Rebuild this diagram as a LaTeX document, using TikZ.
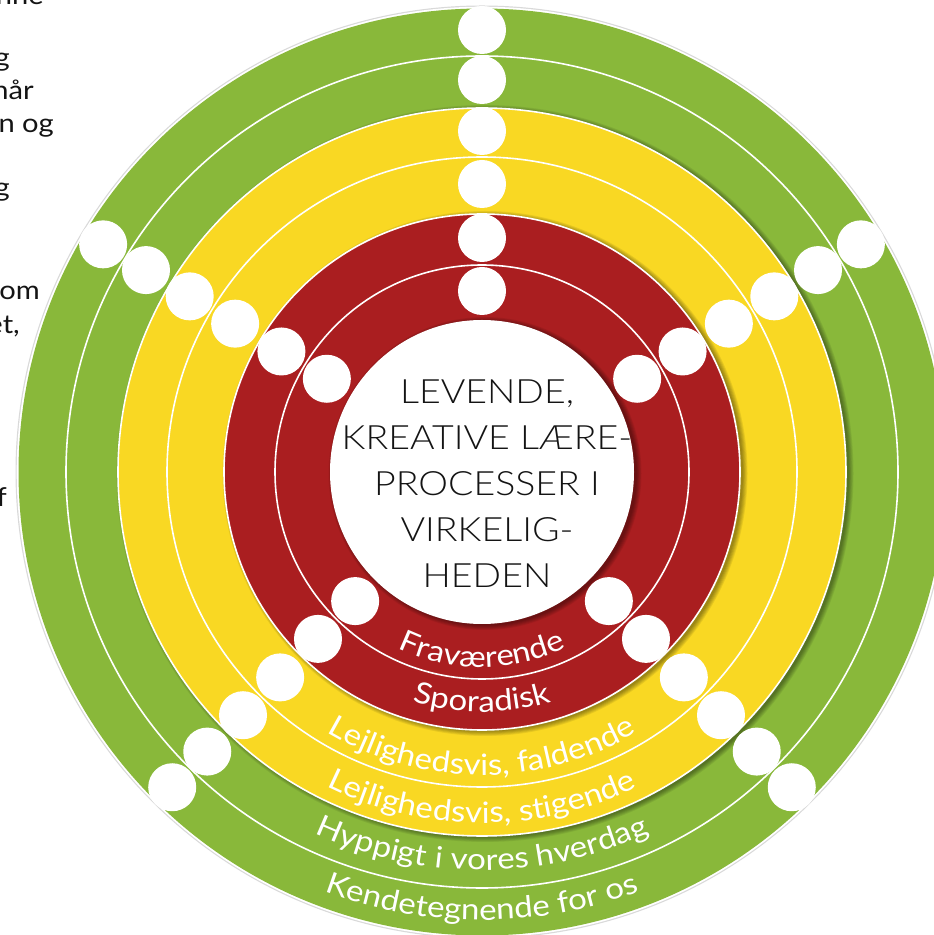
\documentclass[tikz,border=0pt]{standalone}
\usepackage{fontspec}
\setmainfont{Lato}
\newfontfamily\avnlight{Lato Light}[FakeStretch=1.12]
\newfontfamily\avn{Lato}[FakeStretch=1.12]
\usetikzlibrary{decorations.text}
\definecolor{ringgreen}{RGB}{137,184,58}
\definecolor{ringyellow}{RGB}{249,216,35}
\definecolor{ringred}{RGB}{170,30,32}
\definecolor{inktext}{RGB}{20,20,20}
\begin{document}
\begin{tikzpicture}[x=1pt,y=1pt,
  sepline/.style={draw=white, line width=1.6pt},
  softshadow/.style={fill=black, opacity=0.07},
  dot/.style={circle, fill=white, minimum size=48pt, inner sep=0pt},
  coredisc/.style={circle, fill=white, minimum size=304pt, inner sep=0pt},
  sidetext/.style={anchor=base east, inner sep=0pt, text=inktext, font=\avn\fontsize{26}{26}\selectfont},
]
\useasboundingbox (0,0) rectangle (934,935);
\coordinate (C) at (482,463);

% outer halo and green disc
\fill[gray!30] (C) circle[radius=466.5];
\fill[white] (C) circle[radius=465.3];
\fill[ringgreen] (C) circle[radius=463.5];
\draw[sepline] (C) circle[radius=416];

% yellow disc with shadow
\foreach \k in {0,...,5}{\fill[softshadow] ([shift={(3,-1.5)}]C) circle[radius=364+0.9*\k];}
\fill[ringyellow] (C) circle[radius=364];
\draw[sepline] (C) circle[radius=364];
\draw[sepline] (C) circle[radius=315];

% red disc with shadow
\foreach \k in {0,...,5}{\fill[softshadow] ([shift={(3,-1.5)}]C) circle[radius=258+0.9*\k];}
\fill[ringred] (C) circle[radius=258];
\draw[sepline] (C) circle[radius=258];
\draw[sepline] (C) circle[radius=207];

% white core with shadow
\foreach \k in {0,...,5}{\fill[softshadow] ([shift={(3,-1.5)}]C) circle[radius=152+0.9*\k];}
\node[coredisc] (core) at (C) {};

% dots
\foreach \a [count=\i] in {90,31,149,225.5,314.5}{
  \foreach \r [count=\j] in {442,392,341,288,234,181}{
    \node[dot] (dot\i\j) at ([shift={(\a:\r)}]C) {};
  }
}

% centre text
\node[anchor=base, inner sep=0pt, text=inktext] (coretext) at (487,531)
  {\avnlight\fontsize{33.5}{46}\selectfont\begin{tabular}[t]{@{}c@{}}LEVENDE,\\KREATIVE LÆRE-\\PROCESSER I\\VIRKELIG-\\HEDEN\end{tabular}};

% ring labels
\path[decorate, decoration={text along path, text align=center,
  text={|\avn\fontsize{29.5}{30}\selectfont\color{white}|Fraværende}}]
  (C) ++(180:195) arc[start angle=180, end angle=360, radius=195];
\path[decorate, decoration={text along path, text align=center,
  text={|\avn\fontsize{29.5}{30}\selectfont\color{white}|Sporadisk}}]
  (C) ++(180:240) arc[start angle=180, end angle=360, radius=240];
\path[decorate, decoration={text along path, text align=center,
  text={|\avn\fontsize{29.5}{30}\selectfont\color{white}|Lejlighedsvis, faldende}}]
  (C) ++(180:303) arc[start angle=180, end angle=360, radius=303];
\path[decorate, decoration={text along path, text align=center,
  text={|\avn\fontsize{29.5}{30}\selectfont\color{white}|Lejlighedsvis, stigende}}]
  (C) ++(180:351) arc[start angle=180, end angle=360, radius=351];
\path[decorate, decoration={text along path, text align=center,
  text={|\avn\fontsize{29.5}{30}\selectfont\color{white}|Hyppigt i vores hverdag}}]
  (C) ++(180:398) arc[start angle=180, end angle=360, radius=398];
\path[decorate, decoration={text along path, text align=center,
  text={|\avn\fontsize{29.5}{30}\selectfont\color{white}|Kendetegnende for os}}]
  (C) ++(180:448) arc[start angle=180, end angle=360, radius=448];

% cut-off text fragments at the left edge
\node[sidetext] (frag1) at (44,930) {inne};
\node[sidetext] (frag2) at (10,868) {g};
\node[sidetext] (frag3) at (34,835) {når};
\node[sidetext] (frag4) at (54,802) {n og};
\node[sidetext] (frag5) at (10,738) {g};
\node[sidetext] (frag6) at (40,635) {om};
\node[sidetext] (frag7) at (20,601) {et,};
\node[sidetext] (frag8) at (7,428) {f};
\end{tikzpicture}
\end{document}
